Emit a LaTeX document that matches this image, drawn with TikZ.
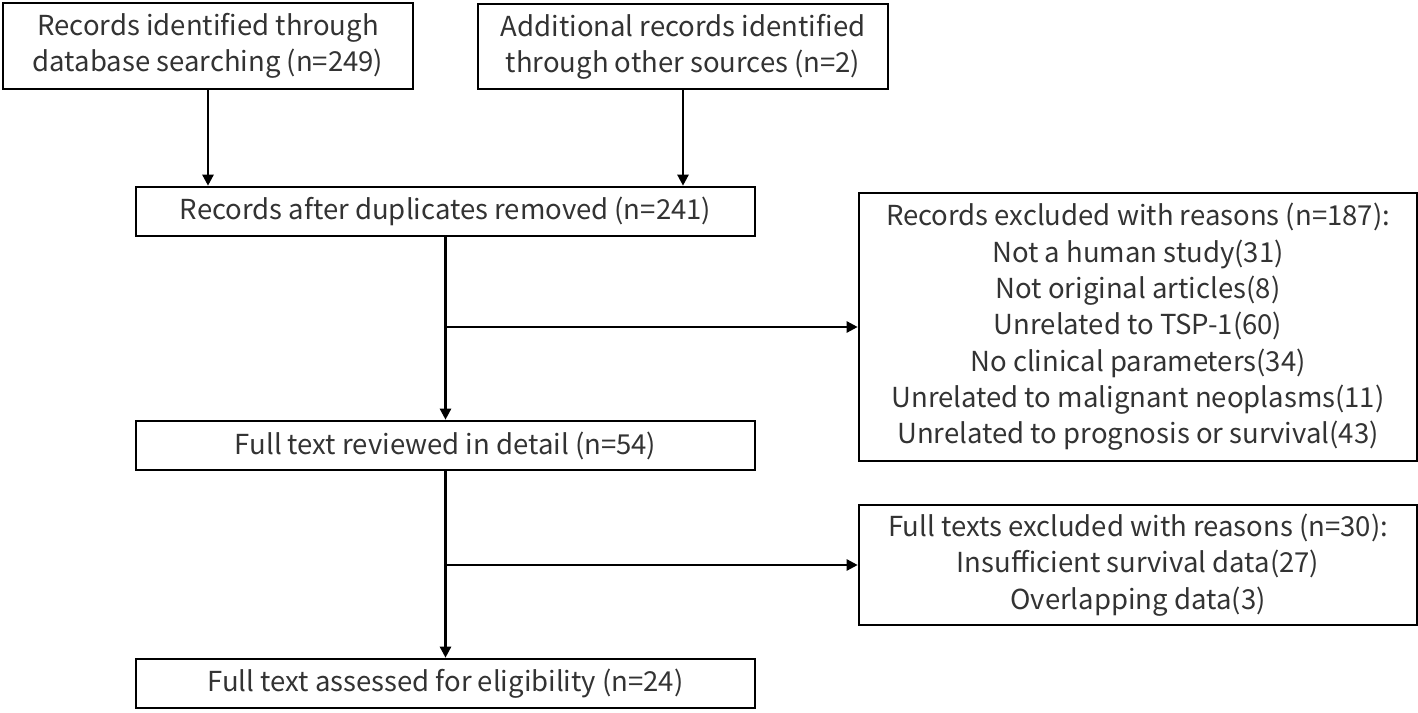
\documentclass[tikz,border=0pt]{standalone}
\usepackage{fontspec}
\setmainfont{Noto Sans CJK SC}
\usetikzlibrary{arrows.meta}
\begin{document}
\begin{tikzpicture}[x=1pt,y=-1pt,
  box/.style={draw=black, line width=2.6pt, align=center, inner sep=0pt,
    font=\fontsize{27.5}{36.3}\selectfont, text=black!80},
  arr/.style={line width=2.4pt, -{Triangle[length=11pt,width=11pt]}}]
\useasboundingbox (0,0) rectangle (1418,712);
\node[box, minimum width=410, minimum height=86] (b1) at (208,46)
  {Records identified through\\database searching (n=249)};
\node[box, minimum width=410, minimum height=85] (b2) at (683,46.5)
  {Additional records identified\\through other sources (n=2)};
\node[box, minimum width=619, minimum height=49] (b3) at (445.5,211.5)
  {Records after duplicates removed (n=241)};
\node[box, minimum width=558, minimum height=268] (b4) at (1138,327)
  {Records excluded with reasons (n=187):\\Not a human study(31)\\Not original articles(8)\\Unrelated to TSP-1(60)\\No clinical parameters(34)\\Unrelated to malignant neoplasms(11)\\Unrelated to prognosis or survival(43)};
\node[box, minimum width=619, minimum height=49] (b5) at (445.5,445.5)
  {Full text reviewed in detail (n=54)};
\node[box, minimum width=558, minimum height=120] (b6) at (1138,565)
  {Full texts excluded with reasons (n=30):\\Insufficient survival data(27)\\Overlapping data(3)};
\node[box, minimum width=619, minimum height=49] (b7) at (445.5,683.5)
  {Full text assessed for eligibility (n=24)};
\draw[arr] (b1.south) -- (b1.south |- b3.north);
\draw[arr] (b2.south) -- (b2.south |- b3.north);
\draw[arr] (b3.south) -- (b5.north);
\draw[arr] (b5.south) -- (b7.north);
\draw[arr] (b3.south |- b4.west) -- (b4.west);
\draw[arr] (b5.south |- b6.west) -- (b6.west);
\end{tikzpicture}
\end{document}
